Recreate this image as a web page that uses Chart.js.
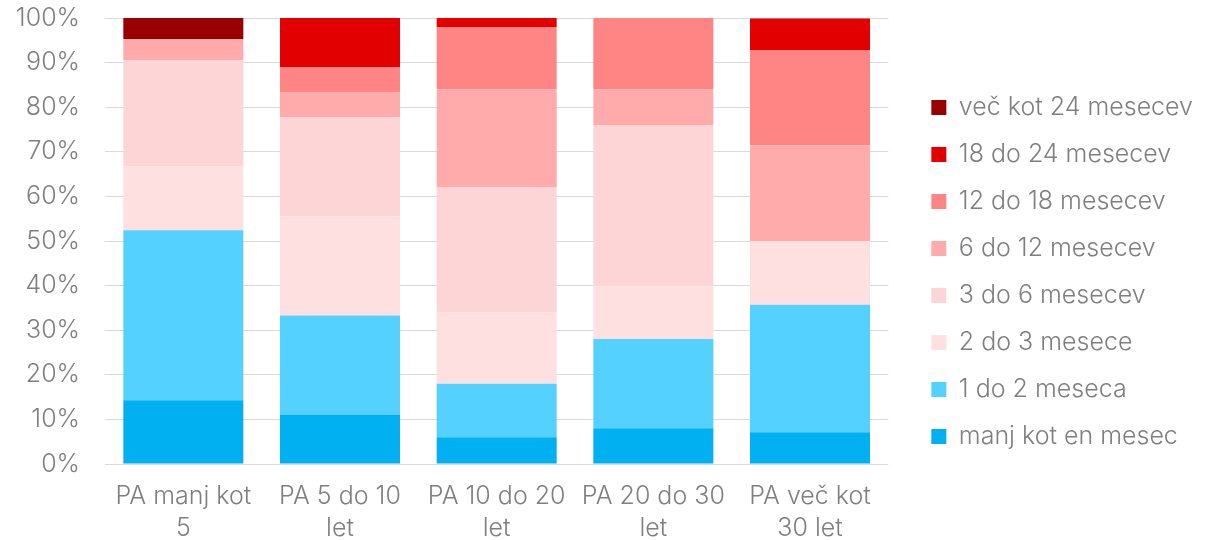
<!DOCTYPE html>
<html>
<head>
<meta charset="utf-8">
<script src="https://cdn.jsdelivr.net/npm/chart.js@4/dist/chart.umd.min.js"></script>
<style>
  html, body { margin: 0; padding: 0; background: #fff; }
  #wrap { width: 1215px; height: 540px; }
</style>
</head>
<body>
<div id="wrap"><canvas id="myChart"></canvas></div>
<script>
// categories (x axis), split into lines like the original
const categories = [
    ['PA manj kot', '5'],
    ['PA 5 do 10', 'let'],
    ['PA 10 do 20', 'let'],
    ['PA 20 do 30', 'let'],
    ['PA več kot', '30 let']
];

// share of each duration group, in %, bottom to top
const manjKotEnMesec = [14.3, 11.1, 6, 8, 7.1];
const od1do2 = [38.1, 22.2, 12, 20, 28.6];
const od2do3 = [14.3, 22.2, 16, 12, 14.3];
const od3do6 = [23.8, 22.2, 28, 36, 0];
const od6do12 = [4.8, 5.6, 22, 8, 21.4];
const od12do18 = [0, 5.6, 14, 16, 21.4];
const od18do24 = [0, 11.1, 2, 0, 7.1];
const vecKot24 = [4.8, 0, 0, 0, 0];

const yTicks = [0, 10, 20, 30, 40, 50, 60, 70, 80, 90, 100];

const seriesNames = [
    'manj kot en mesec', '1 do 2 meseca', '2 do 3 mesece', '3 do 6 mesecev',
    '6 do 12 mesecev', '12 do 18 mesecev', '18 do 24 mesecev', 'več kot 24 mesecev'
];
const seriesData = [manjKotEnMesec, od1do2, od2do3, od3do6, od6do12, od12do18, od18do24, vecKot24];
const seriesColors = ['#00b0f0', '#55d1ff', '#fee0e1', '#fed5d6', '#ffabab', '#ff8585', '#e30000', '#990000'];

const grey = '#7f7f7f';
Chart.defaults.font.family = 'Inter, "Noto Sans", sans-serif';
Chart.defaults.font.weight = 300;

// push the legend a bit away from the plot and move it vertically
const legendGap = 21;
const legendDrop = -17;
const legendShift = {
    id: 'legendShift',
    beforeInit(chart) {
        const fit = chart.legend.fit;
        chart.legend.fit = function () {
            fit.bind(chart.legend)();
            this.width += legendGap;
        };
    },
    afterLayout(chart) {
        chart.legend.left += legendGap;
        chart.legend.top += legendDrop;
        chart.legend.bottom += legendDrop;
    }
};

const ctx = document.getElementById('myChart').getContext('2d');
const myChart = new Chart(ctx, {
    type: 'bar',
    data: {
        labels: categories,
        datasets: seriesNames.map((name, i) => ({
            label: name,
            data: seriesData[i],
            backgroundColor: seriesColors[i],
            borderWidth: 0,
            categoryPercentage: 1,
            barPercentage: 0.766
        }))
    },
    options: {
        responsive: true,
        maintainAspectRatio: false,
        animation: false,
        layout: { padding: { top: 18, right: 12, left: 0, bottom: -20 } },
        plugins: {
            tooltip: { enabled: false },
            legend: {
                position: 'right',
                reverse: true,
                labels: {
                    color: grey,
                    boxWidth: 15,
                    boxHeight: 15,
                    padding: 22,
                    font: { size: 25, weight: 300 }
                }
            }
        },
        scales: {
            x: {
                stacked: true,
                grid: { display: false, drawTicks: false },
                border: { display: false },
                ticks: { color: grey, font: { size: 25, weight: 300, lineHeight: 1.28 }, padding: 16, maxRotation: 0 }
            },
            y: {
                stacked: true,
                min: 0,
                max: 100,
                afterBuildTicks: (axis) => { axis.ticks = yTicks.map(v => ({ value: v })); },
                afterFit: (axis) => { axis.width = 105; },
                grid: { color: '#d9d9d9', lineWidth: 1, drawTicks: true, tickLength: 25, tickColor: 'rgba(0,0,0,0)' },
                border: { display: false },
                ticks: {
                    color: grey,
                    font: { size: 25, weight: 300 },
                    padding: 0,
                    callback: (v) => v + '%'
                }
            }
        }
    },
    plugins: [legendShift]
});
</script>
</body>
</html>
